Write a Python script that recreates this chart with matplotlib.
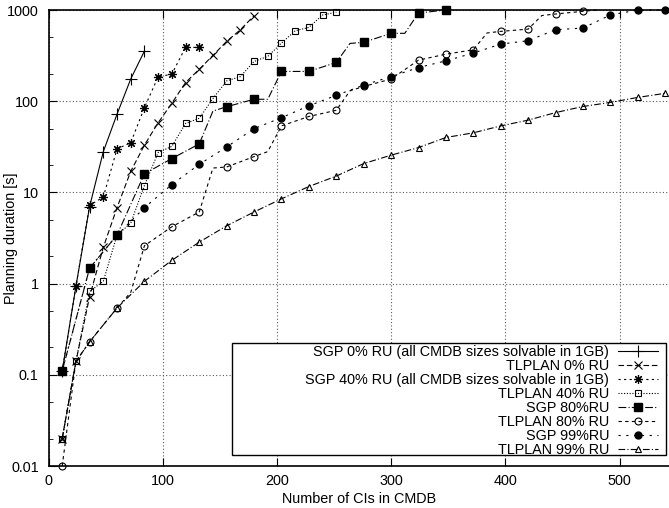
import numpy as np
import matplotlib
matplotlib.use("Agg")
import matplotlib.pyplot as plt
from matplotlib.ticker import LogLocator, NullFormatter, FixedLocator
from matplotlib.patches import Rectangle

plt.rcParams['font.family'] = ['Liberation Sans', 'DejaVu Sans']
plt.rcParams['font.size'] = 10.4

# datos (x = numero de CIs, y = segundos)
sgp0_x = [12, 24, 36, 48, 60, 72, 84]
sgp0_y = [0.11, 0.93, 7.0, 28, 72, 175, 355]

tl0_x = [12, 24, 36, 48, 60, 72, 84, 96, 108, 120, 132, 144, 156, 168, 180]
tl0_y = [0.02, 0.14, 0.72, 2.5, 6.8, 17, 33, 58, 95, 160, 224, 318, 453, 607, 866]

sgp40_x = [12, 24, 36, 48, 60, 72, 84, 96, 108, 120, 132]
sgp40_y = [0.11, 0.93, 7.2, 8.9, 30, 35, 85, 185, 198, 389, 389]

tl40_x = [12, 24, 36, 48, 60, 72, 84, 96, 108, 120, 132, 144, 156, 168, 180,
          192, 204, 216, 228, 240, 252]
tl40_y = [0.02, 0.14, 0.82, 1.06, 3.4, 4.6, 11.9, 27.3, 32, 57, 65, 107, 167, 186, 273,
          310, 434, 592, 645, 881, 944]

sgp80_x = [12, 36, 60, 84, 108, 132, 144, 156, 180, 192, 204, 228, 252, 264, 276,
           300, 312, 324, 348]
sgp80_y = [0.11, 1.48, 3.4, 16, 23.5, 34, 78, 87, 105, 105, 212, 212, 266, 430, 442,
           555, 555, 927, 1000]

tl80_x = [12, 24, 36, 60, 72, 84, 108, 132, 144, 156, 180, 192, 204, 228, 252, 264,
          276, 300, 324, 348, 372, 384, 396, 420, 432, 444, 468, 480]
tl80_y = [0.01, 0.14, 0.23, 0.54, 0.8, 2.6, 4.2, 6.1, 18.5, 19, 24.7, 28, 53.6, 68, 79.5, 130,
          145, 175, 282, 328, 366, 560, 583, 617, 870, 904, 968, 1000]

sgp99_x = [12, 36, 60, 84, 108, 132, 156, 180, 204, 228, 252, 276, 300, 324, 348,
           372, 396, 420, 444, 468, 492, 516, 540]
sgp99_y = [0.11, 1.48, 3.4, 6.8, 12.2, 20.3, 31.5, 50, 66, 89, 116, 150, 186, 234, 277,
           337, 423, 460, 608, 634, 881, 1000, 1000]

tl99_x = [12, 24, 36, 60, 84, 108, 132, 156, 180, 204, 228, 252, 276, 300, 324, 348,
          372, 396, 420, 444, 468, 492, 516, 540]
tl99_y = [0.02, 0.14, 0.23, 0.54, 1.06, 1.8, 2.85, 4.3, 6.1, 8.5, 11.6, 15.1, 20.7, 25.6,
          31, 40, 45, 53.6, 62, 75, 87.5, 97, 110, 122]

labels = ["SGP 0% RU (all CMDB sizes solvable in 1GB)",
          "TLPLAN 0% RU",
          "SGP 40% RU (all CMDB sizes solvable in 1GB)",
          "TLPLAN 40% RU",
          "SGP 80%RU",
          "TLPLAN 80% RU",
          "SGP 99%RU",
          "TLPLAN 99% RU"]

def cada24(xs):
    # los puntos se dibujan cada 24 CIs
    return [i for i, x in enumerate(xs) if (x - 12) % 24 == 0]

fig = plt.figure(figsize=(6.69, 5.08), dpi=100)
ax = fig.add_axes([48.5/669, 42/508, (669-48.5)/669, 456/508])

lw = 0.8
ax.plot(sgp0_x, sgp0_y, color='k', lw=lw, ls='-', marker='+', ms=8, mew=0.8,
        label=labels[0], clip_on=False)
ax.plot(tl0_x, tl0_y, color='k', lw=lw, ls=(0, (5, 2.5)), marker='x', ms=6, mew=0.8,
        label=labels[1], clip_on=False)
ax.plot(sgp40_x, sgp40_y, color='k', lw=lw, ls=(0, (2, 3)), marker=(8, 2, 0), ms=6.5, mew=0.85,
        label=labels[2], clip_on=False)
ax.plot(tl40_x, tl40_y, color='k', lw=lw, ls=(0, (1, 1.5)), marker='s', ms=5, mew=0.8,
        mfc='none', label=labels[3], clip_on=False)
ax.plot(sgp80_x, sgp80_y, color='k', lw=lw, ls=(0, (7, 2, 1, 2)), marker='s', ms=5.5,
        markevery=cada24(sgp80_x), label=labels[4], clip_on=False)
ax.plot(tl80_x, tl80_y, color='k', lw=lw, ls=(0, (3, 3)), marker='o', ms=5, mew=0.8,
        mfc='none', markevery=cada24(tl80_x), label=labels[5], clip_on=False)
ax.plot(sgp99_x, sgp99_y, color='k', lw=lw, ls=(0, (2, 5)), marker='o', ms=5,
        markevery=cada24(sgp99_x), label=labels[6], clip_on=False)
ax.plot(tl99_x, tl99_y, color='k', lw=lw, ls=(0, (6, 2, 1, 2)), marker='^', ms=5, mew=0.8,
        mfc='none', markevery=cada24(tl99_x), label=labels[7], clip_on=False)

ax.set_yscale('log')
ax.set_ylim(0.01, 1000)
ax.set_xlim(0, (669-48.5)/1.142)
ax.xaxis.set_major_locator(FixedLocator([0, 100, 200, 300, 400, 500]))
ax.yaxis.set_minor_locator(LogLocator(base=10, subs=(2.0, 5.0), numticks=10))
ax.yaxis.set_minor_formatter(NullFormatter())
ax.set_yticks([0.01, 0.1, 1, 10, 100, 1000])
ax.set_yticklabels(["0.01", "0.1", "1", "10", "100", "1000"])

ax.tick_params(which='both', direction='in', top=True, right=False, color='k')
ax.tick_params(which='major', length=6, width=0.8)
ax.tick_params(which='minor', length=3, width=0.6)
ax.tick_params(axis='y', pad=7)
ax.tick_params(axis='x', pad=6)
ax.grid(True, which='major', color='0.35', ls=(0, (1, 2)), lw=0.8)

for s in ['left', 'bottom', 'top']:
    ax.spines[s].set_linewidth(1.2)
ax.spines['right'].set_visible(False)

ax.set_xlabel("Number of CIs in CMDB", labelpad=2.5)
ax.set_ylabel("Planning duration [s]")
ax.yaxis.set_label_coords((18 - 48.5) / 620.5, 0.5)

# caja de la leyenda (mas ancha que el texto, como en gnuplot)
caja = Rectangle((232/669, (508-455)/508), 434/669, 112/508, transform=fig.transFigure,
                 facecolor='white', edgecolor='k', lw=1.0, zorder=4.5, clip_on=False)
ax.add_artist(caja)

leg = ax.legend(loc='lower right', bbox_to_anchor=(661/669, (508-460)/508),
                bbox_transform=fig.transFigure, markerfirst=False, numpoints=1,
                handlelength=2.8, handletextpad=0.6, labelspacing=0.0,
                borderpad=0.2, borderaxespad=0, frameon=False)

plt.savefig("out.png", dpi=100)
